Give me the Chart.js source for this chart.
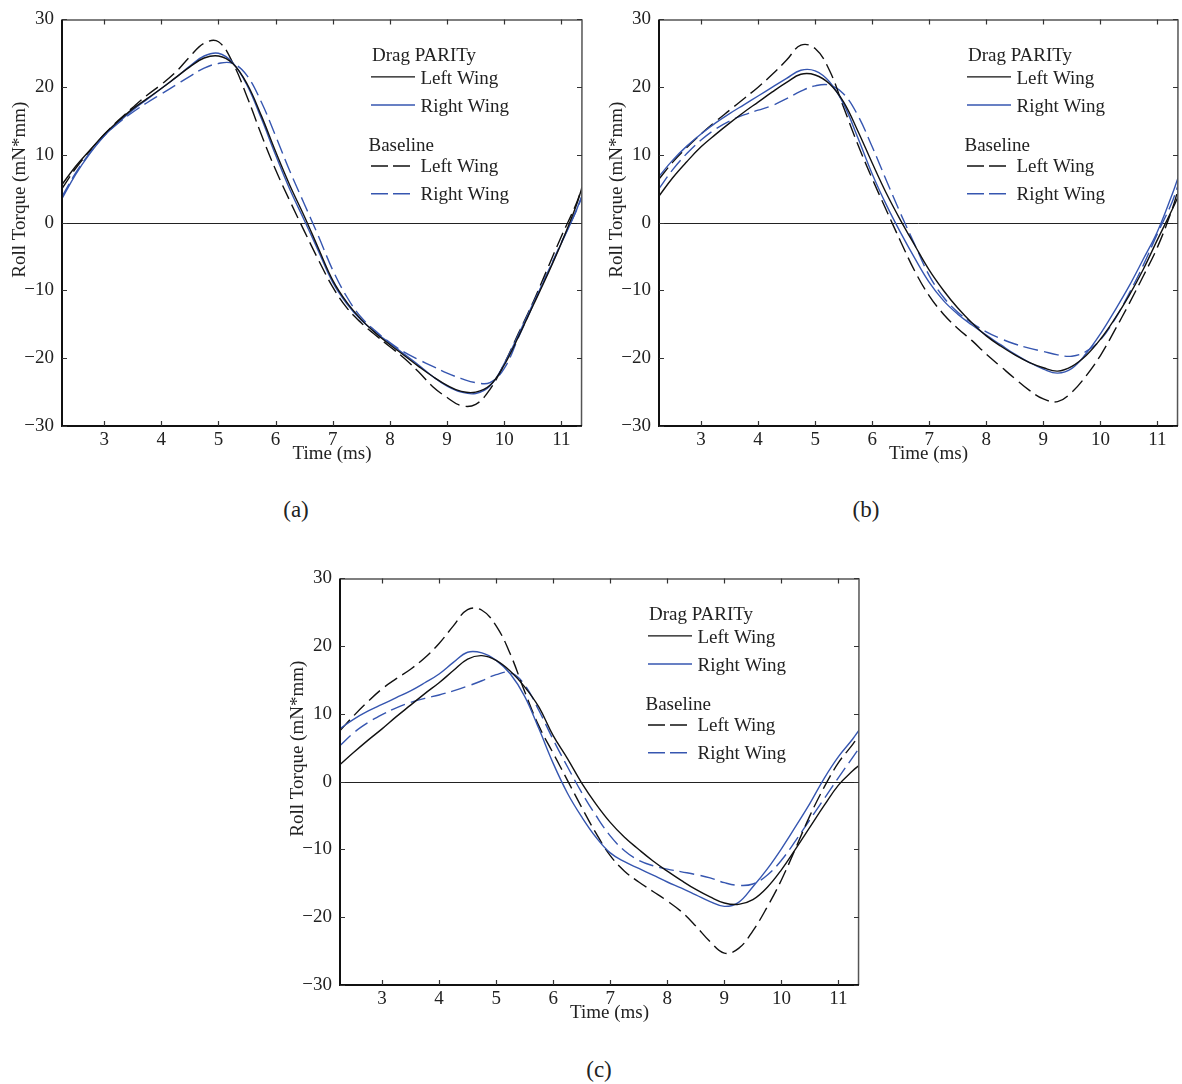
<!DOCTYPE html>
<html><head><meta charset="utf-8">
<script src="https://cdn.jsdelivr.net/npm/chart.js@4.4.1/dist/chart.umd.min.js"></script>
<style>
html,body{margin:0;padding:0;background:#fff;}
body{width:1182px;height:1084px;position:relative;overflow:hidden;}
.wrap{position:absolute;}
.cap{position:absolute;font-family:'Liberation Serif','DejaVu Serif',serif;font-size:23px;color:#222;transform:translate(-50%,-50%);white-space:nowrap;}
</style></head><body>
<div class="wrap" id="wa"><canvas id="ca"></canvas></div>
<div class="wrap" id="wb"><canvas id="cb"></canvas></div>
<div class="wrap" id="wc"><canvas id="cc"></canvas></div>
<div class="cap" id="capa">(a)</div>
<div class="cap" id="capb">(b)</div>
<div class="cap" id="capc">(c)</div>
<script>
// ---------- data ----------
const timeMs = [2.26,2.5,2.75,3,3.25,3.5,3.75,4,4.25,4.5,4.75,5,5.25,5.5,5.75,6,6.25,6.5,6.75,7,7.25,7.5,7.75,8,8.25,8.5,8.75,9,9.25,9.5,9.75,10,10.25,10.5,10.75,11,11.25,11.36];
const xTicks = [3,4,5,6,7,8,9,10,11];
const yTicks = [-30,-20,-10,0,10,20,30];
const xTitle = 'Time (ms)';
const yTitle = 'Roll Torque (mN*mm)';
const groupTitles = ['Drag PARITy','Baseline'];
const wingLabels = ['Left Wing','Right Wing'];
const panelCaptions = ['(a)','(b)','(c)'];

// panel (a)
const aParityLeft  = [5.6,8.3,10.7,13.0,15.0,16.8,18.3,19.8,21.4,23.0,24.3,24.6,23.5,20.5,15.8,10.5,5.5,1.0,-3.8,-8.5,-11.8,-14.3,-16.3,-18.0,-19.6,-21.2,-22.7,-24.0,-24.9,-25.0,-24.0,-21.0,-16.8,-12.3,-7.8,-3.0,2.3,5.2];
const aParityRight = [3.5,7.1,10.2,12.8,14.8,16.6,18.2,19.8,21.4,23.1,24.6,25.0,23.6,20.3,15.4,10.0,4.9,0.4,-4.2,-8.8,-12.0,-14.4,-16.2,-17.8,-19.4,-21.0,-22.7,-24.1,-25.0,-25.2,-24.1,-20.8,-16.5,-12.0,-7.6,-3.0,1.6,4.0];
const aBaseLeft    = [5.0,8.0,10.6,13.0,15.1,17.0,18.8,20.4,22.2,24.5,26.5,26.7,23.6,18.6,13.0,7.8,3.2,-1.2,-5.5,-9.5,-12.6,-14.8,-16.6,-18.3,-20.0,-22.0,-24.2,-25.8,-27.0,-26.8,-24.6,-20.8,-16.3,-11.8,-6.9,-2.0,2.6,5.2];
const aBaseRight   = [3.8,7.3,10.3,12.8,14.7,16.3,17.7,19.0,20.3,21.6,22.8,23.5,23.5,21.7,17.8,12.8,7.6,2.8,-2.0,-7.0,-11.0,-14.0,-16.0,-17.7,-19.1,-20.2,-21.2,-22.2,-23.0,-23.6,-23.6,-21.5,-16.9,-12.2,-7.5,-2.9,1.6,3.8];

// panel (b)
const bParityLeft  = [3.9,6.6,9.0,11.2,13.0,14.7,16.3,17.8,19.3,20.7,21.9,21.8,20.5,17.8,13.5,8.8,4.3,0.3,-3.4,-7.0,-10.0,-12.6,-14.8,-16.7,-18.2,-19.5,-20.6,-21.4,-21.9,-21.2,-19.6,-17.2,-14.2,-10.8,-6.9,-2.5,1.8,3.8];
const bParityRight = [6.8,9.2,11.3,13.1,14.7,16.1,17.4,18.7,20.0,21.3,22.5,22.4,20.8,17.5,12.5,7.2,2.6,-1.5,-5.3,-8.8,-11.5,-13.5,-15.1,-16.6,-18.0,-19.4,-20.6,-21.6,-22.2,-21.5,-19.3,-16.4,-13.0,-9.4,-5.4,-1.3,4.0,6.6];
const bBaseLeft    = [6.4,8.9,11.1,13.1,14.9,16.6,18.3,20.0,21.9,24.0,26.2,25.7,22.5,17.0,11.5,6.5,1.8,-2.8,-7.2,-10.8,-13.5,-15.6,-17.4,-19.4,-21.2,-23.0,-24.7,-26.0,-26.4,-25.0,-22.6,-19.6,-15.9,-12.0,-7.9,-3.6,1.8,4.8];
const bBaseRight   = [5.0,7.8,10.2,12.2,13.8,15.0,15.9,16.6,17.3,18.3,19.4,20.2,20.3,19.0,15.8,11.2,6.2,1.3,-3.3,-7.8,-11.0,-13.2,-14.8,-16.1,-17.1,-17.9,-18.5,-19.0,-19.5,-19.7,-19.0,-17.3,-14.3,-10.5,-6.3,-1.6,2.9,5.5];

// panel (c)
const cParityLeft  = [2.5,4.3,6.1,7.8,9.6,11.3,13.0,14.6,16.4,18.1,18.6,17.9,16.3,14.0,11.0,6.8,3.4,-0.2,-3.3,-6.0,-8.2,-10.0,-11.7,-13.2,-14.6,-15.9,-17.0,-17.9,-18.1,-17.4,-15.6,-13.0,-9.9,-6.7,-3.5,-0.5,1.6,2.4];
const cParityRight = [7.8,9.2,10.4,11.4,12.4,13.4,14.6,15.9,17.6,19.1,19.0,17.9,15.9,12.6,7.8,2.7,-1.7,-5.2,-8.2,-10.5,-11.8,-12.8,-13.8,-14.8,-15.7,-16.7,-17.7,-18.4,-17.8,-15.5,-12.9,-9.9,-6.6,-3.2,0.5,3.7,6.3,7.6];
const cBaseLeft    = [7.5,9.7,11.8,13.7,15.2,16.6,18.3,20.4,23.0,25.4,25.3,23.0,18.8,13.3,8.2,4.2,0.2,-3.8,-7.6,-10.9,-13.2,-14.8,-16.2,-17.6,-19.2,-21.3,-23.6,-25.3,-24.6,-22.0,-18.5,-14.5,-9.8,-5.0,-0.8,2.8,5.5,6.8];
const cBaseRight   = [5.3,7.2,8.7,9.9,10.9,11.7,12.3,12.8,13.4,14.1,14.9,15.8,16.1,14.3,10.5,6.2,2.2,-1.6,-5.0,-8.0,-10.2,-11.6,-12.4,-12.9,-13.3,-13.7,-14.2,-14.9,-15.3,-15.1,-13.8,-11.6,-8.7,-5.6,-2.5,0.6,3.6,4.9];

// ---------- styles ----------
const FONT = "'Liberation Serif','Times New Roman',serif";
const BLACK = '#111111';
const BLUE = '#3656b0';
const DASH = [15, 6];
const X_MIN = 2.263, X_MAX = 11.36;

const panels = [
  {id:'ca', wrap:'wa', L:62, T:17, R:582, B:426, series:[aParityLeft,aParityRight,aBaseLeft,aBaseRight], cap:'capa', capText:panelCaptions[0], capX:296, capY:510},
  {id:'cb', wrap:'wb', L:659, T:17, R:1178, B:426, series:[bParityLeft,bParityRight,bBaseLeft,bBaseRight], cap:'capb', capText:panelCaptions[1], capX:866, capY:510},
  {id:'cc', wrap:'wc', L:340, T:576, R:859, B:985, series:[cParityLeft,cParityRight,cBaseLeft,cBaseRight], cap:'capc', capText:panelCaptions[2], capX:599, capY:1070}
];
const PADL = 62, PADT = 17, PADR = 4, PADB = 52;

function toPoints(ys){ return timeMs.map((t,i)=>({x:t, y:ys[i]})); }
function minusFix(v){ return String(v).replace('-', '\u2212'); }

const framePlugin = {
  id:'matlabFrame',
  beforeDatasetsDraw(chart){
    const {ctx, chartArea:a, scales:{y}} = chart;
    const y0 = Math.round(y.getPixelForValue(0)) + 0.5;
    ctx.save();
    ctx.strokeStyle = '#222'; ctx.lineWidth = 1;
    ctx.beginPath(); ctx.moveTo(a.left, y0); ctx.lineTo(a.right, y0); ctx.stroke();
    ctx.restore();
  },
  afterDatasetsDraw(chart){
    const {ctx, chartArea:a, scales:{x, y}} = chart;
    ctx.save();
    ctx.lineCap = 'butt';
    ctx.strokeStyle = '#555'; ctx.lineWidth = 1.5;
    ctx.beginPath(); ctx.moveTo(a.left, a.top+0.5); ctx.lineTo(a.right, a.top+0.5); ctx.lineTo(a.right-0.5, a.bottom); ctx.stroke();
    ctx.strokeStyle = BLACK; ctx.lineWidth = 2;
    ctx.beginPath(); ctx.moveTo(a.left, a.top); ctx.lineTo(a.left, a.bottom); ctx.lineTo(a.right, a.bottom); ctx.stroke();
    ctx.lineWidth = 1.2; ctx.strokeStyle = '#333';
    ctx.beginPath();
    x.ticks.forEach(tk=>{ const px = Math.round(x.getPixelForValue(tk.value))+0.5;
      ctx.moveTo(px, a.bottom); ctx.lineTo(px, a.bottom-5);
      ctx.moveTo(px, a.top); ctx.lineTo(px, a.top+5); });
    y.ticks.forEach(tk=>{ const py = Math.round(y.getPixelForValue(tk.value))+0.5;
      ctx.moveTo(a.left, py); ctx.lineTo(a.left+5, py);
      ctx.moveTo(a.right, py); ctx.lineTo(a.right-5, py); });
    ctx.stroke();
    ctx.fillStyle = '#222'; ctx.font = '19px ' + FONT;
    ctx.textAlign = 'center'; ctx.textBaseline = 'alphabetic';
    ctx.fillText(xTitle, (a.left+a.right)/2 + 10, a.bottom + 33);
    ctx.save();
    ctx.translate(a.left - 37, (a.top+a.bottom)/2 - 33);
    ctx.rotate(-Math.PI/2);
    ctx.fillText(yTitle, 0, 0);
    ctx.restore();
    const ds = chart.data.datasets;
    const rows = [
      {kind:'head', text:groupTitles[0], dx:-210, dy:41.6},
      {kind:'item', ds:ds[0], dy:65, ly:57.5, len:44},
      {kind:'item', ds:ds[1], dy:92.6, ly:85.6, len:44},
      {kind:'head', text:groupTitles[1], dx:-213.5, dy:131.6},
      {kind:'item', ds:ds[2], dy:152.3, ly:146.6, len:39},
      {kind:'item', ds:ds[3], dy:180.3, ly:174.3, len:39}
    ];
    ctx.textAlign = 'left';
    rows.forEach(r=>{
      if (r.kind==='head'){ ctx.fillText(r.text, a.right + r.dx, a.top + r.dy); }
      else {
        ctx.save();
        ctx.strokeStyle = r.ds.borderColor; ctx.lineWidth = 1.4;
        ctx.setLineDash(r.ds.borderDash.length ? [17,5] : []);
        ctx.beginPath(); ctx.moveTo(a.right-211, a.top + r.ly); ctx.lineTo(a.right-211+r.len, a.top + r.ly); ctx.stroke();
        ctx.restore();
        ctx.fillText(r.ds.label, a.right-161.5, a.top + r.dy);
      }
    });
    ctx.restore();
  }
};

panels.forEach(p=>{
  const W = (p.R-p.L) + PADL + PADR, H = (p.B-p.T) + PADT + PADB;
  const wrap = document.getElementById(p.wrap);
  wrap.style.left = (p.L-PADL)+'px'; wrap.style.top = (p.T-PADT)+'px';
  wrap.style.width = W+'px'; wrap.style.height = H+'px';
  const cv = document.getElementById(p.id);
  cv.width = W; cv.height = H; cv.style.width = W+'px'; cv.style.height = H+'px';
  const cap = document.getElementById(p.cap);
  cap.textContent = p.capText;
  cap.style.left = p.capX+'px'; cap.style.top = p.capY+'px';
  const mk = (label, ys, color, dash)=>({label, data:toPoints(ys), borderColor:color, backgroundColor:color,
      borderWidth:1.4, borderDash:dash, pointRadius:0, fill:false, tension:0.4});
  new Chart(cv, {
    type:'line',
    data:{datasets:[
      mk(wingLabels[0], p.series[0], BLACK, []),
      mk(wingLabels[1], p.series[1], BLUE, []),
      mk(wingLabels[0], p.series[2], BLACK, DASH),
      mk(wingLabels[1], p.series[3], BLUE, DASH)
    ]},
    options:{
      responsive:false, animation:false, devicePixelRatio:1,
      layout:{padding:{left:0, top:PADT, right:PADR, bottom:0}},
      plugins:{legend:{display:false}, tooltip:{enabled:false}},
      scales:{
        x:{type:'linear', min:X_MIN, max:X_MAX,
           grid:{display:false, drawTicks:false}, border:{display:false},
           afterBuildTicks:s=>{ s.ticks = xTicks.map(v=>({value:v})); },
           afterFit:s=>{ s.height = PADB; },
           ticks:{font:{family:FONT, size:19}, color:'#222', padding:3, maxRotation:0, autoSkip:false,
                  callback:v=>minusFix(v)}},
        y:{type:'linear', min:-30, max:30,
           grid:{display:false, drawTicks:false}, border:{display:false},
           afterBuildTicks:s=>{ s.ticks = yTicks.map(v=>({value:v})); },
           afterFit:s=>{ s.width = PADL; },
           ticks:{font:{family:FONT, size:19}, color:'#222', padding:8, autoSkip:false,
                  callback:v=>minusFix(v)}}
      }
    },
    plugins:[framePlugin]
  });
});
</script>
</body></html>
